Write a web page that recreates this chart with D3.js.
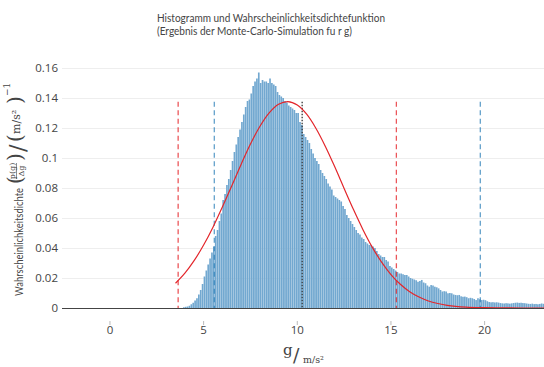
<!DOCTYPE html>
<html>
<head>
<meta charset="utf-8">
<script src="https://cdn.jsdelivr.net/npm/d3@7"></script>
<style>
  body { margin: 0; background: #fff; }
  svg { display: block; }
</style>
</head>
<body>
<div id="chart"></div>
<script>
// histogram of the Monte-Carlo results, density per bin (bins 0.1 wide starting at 3.9)
const binStart = 3.9;
const binWidth = 0.1;
const density = [
  0.0005, 0.0008, 0.001, 0.0015, 0.0025, 0.0035, 0.005, 0.0065, 0.009, 0.012,
  0.016, 0.021, 0.025, 0.029, 0.033, 0.037, 0.041, 0.048, 0.052, 0.058,
  0.063, 0.072, 0.076, 0.082, 0.086, 0.092, 0.098, 0.104, 0.109, 0.114,
  0.119, 0.124, 0.129, 0.134, 0.138, 0.139, 0.143, 0.148, 0.151, 0.153,
  0.157, 0.150, 0.152, 0.151, 0.151, 0.150, 0.153, 0.150, 0.149, 0.148,
  0.144, 0.142, 0.141, 0.140, 0.138, 0.137, 0.135, 0.134, 0.133, 0.132,
  0.130, 0.130, 0.124, 0.122, 0.116, 0.114, 0.112, 0.110, 0.106, 0.103,
  0.100, 0.098, 0.096, 0.092, 0.090, 0.088, 0.086, 0.083, 0.081, 0.079,
  0.075, 0.074, 0.073, 0.072, 0.071, 0.068, 0.066, 0.062, 0.060, 0.058,
  0.056, 0.054, 0.052, 0.050, 0.049, 0.047, 0.046, 0.044, 0.043, 0.042,
  0.042, 0.041, 0.040, 0.038, 0.036, 0.035, 0.034, 0.034, 0.032, 0.031,
  0.028, 0.027, 0.026, 0.025, 0.024, 0.023, 0.023, 0.0225, 0.022, 0.022,
  0.021, 0.020, 0.0195, 0.019, 0.0185, 0.0175, 0.018, 0.0187, 0.017, 0.0165,
  0.015, 0.0142, 0.0153, 0.015, 0.0142, 0.0138, 0.0131, 0.012, 0.011, 0.0112,
  0.011, 0.0098, 0.010, 0.0098, 0.009, 0.0087, 0.0085, 0.0087, 0.0078, 0.0075,
  0.0076, 0.0072, 0.0065, 0.0068, 0.0065, 0.006, 0.0053, 0.0065, 0.0058, 0.0053,
  0.0055, 0.0052, 0.0045, 0.004, 0.0038, 0.0039, 0.0037, 0.0038, 0.0036, 0.0033,
  0.0031, 0.003, 0.0032, 0.0031, 0.0029, 0.0031, 0.0033, 0.0035, 0.0036, 0.0034,
  0.0035, 0.0033, 0.0032, 0.003, 0.0028, 0.0027, 0.0029, 0.0026, 0.0027, 0.0025,
  0.0027, 0.003, 0.0028, 0.0029
];

// red curve (probability density function)
const pdfX = [3.5, 4, 4.5, 5, 5.5, 6, 6.5, 7, 7.5, 8, 8.5, 9, 9.5, 10, 10.5, 11, 11.5, 12,
  12.5, 13, 13.5, 14, 14.5, 15, 15.5, 16, 16.5, 17, 17.5, 18, 19, 20, 21, 22, 23.2];
const pdfY = [0.0165, 0.0232, 0.0317, 0.042, 0.0539, 0.0673, 0.0814, 0.0957, 0.1093, 0.121,
  0.1301, 0.1358, 0.1376, 0.1353, 0.1292, 0.1197, 0.1077, 0.0941, 0.0797, 0.0656,
  0.0524, 0.0406, 0.0306, 0.0223, 0.0158, 0.0109, 0.0073, 0.0047, 0.003, 0.0018,
  0.0006, 0.0002, 0.00005, 0, 0];

// vertical markers
const redLines = [3.64, 15.29];
const blueLines = [5.57, 19.77];
const meanLine = 10.26;
const markerTop = 0.1375;

const xTicks = [0, 5, 10, 15, 20];
const yTicks = [0, 0.02, 0.04, 0.06, 0.08, 0.1, 0.12, 0.14, 0.16];
const yTickLabels = ['0', '0.02', '0.04', '0.06', '0.08', '0.1', '0.12', '0.14', '0.16'];

const titleLines = ['Histogramm und Wahrscheinlichkeitsdichtefunktion',
  '(Ergebnis der Monte-Carlo-Simulation fu r g)'];

const W = 544, H = 367;
const plot = { left: 62, right: 544, top: 60.5, bottom: 308 };

const svg = d3.select('#chart').append('svg')
  .attr('width', W)
  .attr('height', H);

const x = d3.scaleLinear()
  .domain([-2.56, 23.17])
  .range([plot.left, plot.right]);

const y = d3.scaleLinear()
  .domain([0, 0.165])
  .range([plot.bottom, plot.top]);

svg.append('defs').append('clipPath').attr('id', 'clip')
  .append('rect')
  .attr('x', plot.left).attr('y', plot.top - 5)
  .attr('width', plot.right - plot.left).attr('height', plot.bottom - plot.top + 5);

// grid
svg.append('g')
  .selectAll('line')
  .data(yTicks.filter(d => d > 0))
  .enter().append('line')
  .attr('x1', plot.left).attr('x2', plot.right)
  .attr('y1', d => Math.round(y(d)) + 0.5).attr('y2', d => Math.round(y(d)) + 0.5)
  .attr('stroke', '#eee').attr('stroke-width', 1);

// y tick labels
svg.append('g')
  .selectAll('text')
  .data(yTicks)
  .enter().append('text')
  .attr('x', plot.left - 4)
  .attr('y', d => y(d))
  .attr('dy', '0.36em')
  .attr('text-anchor', 'end')
  .attr('font-family', '"Open Sans", sans-serif')
  .attr('font-size', '11.5px')
  .attr('fill', '#444')
  .text((d, i) => yTickLabels[i]);

// x tick marks and labels
const xAxis = svg.append('g');
xAxis.selectAll('line')
  .data(xTicks)
  .enter().append('line')
  .attr('x1', d => x(d)).attr('x2', d => x(d))
  .attr('y1', 321).attr('y2', 325)
  .attr('stroke', '#bbb').attr('stroke-width', 1);
xAxis.selectAll('text')
  .data(xTicks)
  .enter().append('text')
  .attr('x', d => x(d))
  .attr('y', 334)
  .attr('text-anchor', 'middle')
  .attr('font-family', '"Open Sans", sans-serif')
  .attr('font-size', '11.5px')
  .attr('fill', '#444')
  .text(d => d);

const chart = svg.append('g').attr('clip-path', 'url(#clip)');

// histogram bars
chart.append('g')
  .selectAll('rect')
  .data(density)
  .enter().append('rect')
  .attr('x', (d, i) => x(binStart + i * binWidth))
  .attr('width', (d, i) => x(binStart + (i + 1) * binWidth) - x(binStart + i * binWidth) - 0.2)
  .attr('y', d => y(d))
  .attr('height', d => y(0) - y(d))
  .attr('fill', 'rgb(114,168,208)');

// zero line
svg.append('line')
  .attr('x1', plot.left).attr('x2', plot.right)
  .attr('y1', y(0) + 0.5).attr('y2', y(0) + 0.5)
  .attr('stroke', '#444').attr('stroke-width', 1);

// vertical markers
chart.selectAll('.red-line')
  .data(redLines)
  .enter().append('line')
  .attr('class', 'red-line')
  .attr('x1', d => x(d)).attr('x2', d => x(d))
  .attr('y1', y(markerTop)).attr('y2', y(0))
  .attr('stroke', 'rgba(228,30,35,0.75)')
  .attr('stroke-width', 1.3)
  .attr('stroke-dasharray', '5,3.5');

chart.selectAll('.blue-line')
  .data(blueLines)
  .enter().append('line')
  .attr('class', 'blue-line')
  .attr('x1', d => x(d)).attr('x2', d => x(d))
  .attr('y1', y(markerTop)).attr('y2', y(0))
  .attr('stroke', 'rgba(31,119,180,0.7)')
  .attr('stroke-width', 1.3)
  .attr('stroke-dasharray', '5,3.5');

chart.append('line')
  .attr('x1', x(meanLine)).attr('x2', x(meanLine))
  .attr('y1', y(markerTop)).attr('y2', y(0))
  .attr('stroke', '#333')
  .attr('stroke-width', 1.3)
  .attr('stroke-dasharray', '1.5,1.5');

// density curve
const line = d3.line()
  .x(d => x(d[0]))
  .y(d => y(d[1]))
  .curve(d3.curveCatmullRom);

chart.append('path')
  .datum(pdfX.map((v, i) => [v, pdfY[i]]))
  .attr('fill', 'none')
  .attr('stroke', '#e3262b')
  .attr('stroke-width', 1.2)
  .attr('d', line);

// title
svg.append('g')
  .selectAll('text')
  .data(titleLines)
  .enter().append('text')
  .attr('x', 157)
  .attr('y', (d, i) => 22 + i * 13)
  .attr('font-family', 'Lato, sans-serif')
  .attr('font-size', '11.5px')
  .attr('fill', '#444')
  .attr('textLength', (d, i) => i === 0 ? 228 : 195)
  .attr('lengthAdjust', 'spacingAndGlyphs')
  .text(d => d);

// x axis title: g / (m/s²)
const serif = '"DejaVu Serif", "Liberation Serif", serif';
const xt = svg.append('g').attr('fill', '#444').attr('font-family', serif);
xt.append('text').attr('x', 283).attr('y', 355).attr('font-size', '15px').text('g');
xt.append('text').attr('x', 293).attr('y', 362).attr('font-size', '19px').text('/');
xt.append('text').attr('x', 303).attr('y', 363).attr('font-size', '9.5px').text('m/s²');

// y axis title, rotated
const yt = svg.append('g').attr('fill', '#444');
const rot = (px, py) => `translate(${px},${py}) rotate(-90)`;
yt.append('text').attr('transform', rot(23, 296))
  .attr('font-family', 'Lato, sans-serif').attr('font-size', '12px')
  .attr('textLength', 108).attr('lengthAdjust', 'spacingAndGlyphs')
  .text('Wahrscheinlichkeitsdichte');
yt.append('text').attr('transform', rot(22, 184)).attr('font-family', serif)
  .attr('font-size', '20px').text('(');
yt.append('text').attr('transform', rot(14.5, 171)).attr('font-family', serif)
  .attr('font-size', '8px').attr('text-anchor', 'middle').text('p(g)');
yt.append('line').attr('x1', 16.5).attr('x2', 16.5).attr('y1', 179).attr('y2', 163)
  .attr('stroke', '#444').attr('stroke-width', 0.6);
yt.append('text').attr('transform', rot(24, 171)).attr('font-family', serif)
  .attr('font-size', '8px').attr('text-anchor', 'middle').text('Δg');
yt.append('text').attr('transform', rot(22, 161)).attr('font-family', serif)
  .attr('font-size', '20px').text(')');
yt.append('text').attr('transform', rot(25, 152)).attr('font-family', serif)
  .attr('font-size', '22px').text('/');
yt.append('text').attr('transform', rot(22, 142)).attr('font-family', serif)
  .attr('font-size', '20px').text('(');
yt.append('text').attr('transform', rot(20, 134)).attr('font-family', serif)
  .attr('font-size', '11px').text('m/s²');
yt.append('text').attr('transform', rot(22, 104)).attr('font-family', serif)
  .attr('font-size', '20px').text(')');
yt.append('text').attr('transform', rot(10, 96)).attr('font-family', serif)
  .attr('font-size', '9px').text('−1');
</script>
</body>
</html>
